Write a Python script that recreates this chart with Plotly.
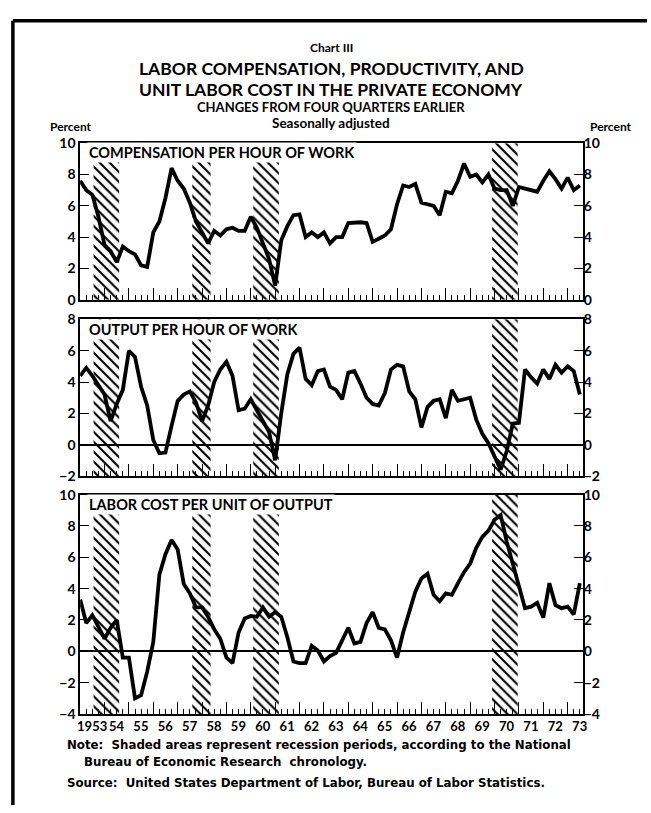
import plotly.graph_objects as go

# ---------------- data (quarterly, 1953 Q1 .. 1973 Q3) ----------------
quarters = [1953 + 0.25 * k for k in range(83)]

compensation = [
    7.6, 7.0, 6.7, 5.3, 3.5, 3.1, 2.4, 3.4, 3.1, 2.9,
    2.2, 2.1, 4.3, 5.0, 6.5, 8.4, 7.6, 7.1, 6.2, 5.0,
    4.3, 3.6, 4.4, 4.1, 4.5, 4.6, 4.4, 4.4, 5.3, 4.6,
    3.6, 2.6, 0.9, 3.8, 4.7, 5.4, 5.45, 4.0, 4.3, 4.0,
    4.3, 3.6, 4.0, 4.0, 4.9, 4.95, 4.95, 4.9, 3.7, 3.9,
    4.1, 4.5, 6.1, 7.3, 7.2, 7.4, 6.2, 6.1, 6.0, 5.4,
    6.9, 6.8, 7.6, 8.7, 7.85, 8.0, 7.5, 8.0, 7.1, 7.0,
    7.0, 6.0, 7.2, 7.1, 7.0, 6.9, 7.6, 8.2, 7.7, 7.1,
    7.8, 7.0, 7.3,
]

productivity = [
    4.4, 4.9, 4.4, 3.8, 3.2, 1.5, 2.6, 3.5, 6.0, 5.6,
    3.7, 2.5, 0.3, -0.55, -0.5, 1.2, 2.8, 3.2, 3.4, 2.7,
    1.5, 2.5, 4.0, 4.8, 5.3, 4.4, 2.2, 2.3, 2.9, 2.2,
    1.5, 0.8, -1.0, 2.0, 4.5, 5.8, 6.2, 4.2, 3.8, 4.7,
    4.8, 3.7, 3.5, 2.9, 4.6, 4.7, 3.9, 3.0, 2.6, 2.5,
    3.3, 4.8, 5.1, 5.0, 3.4, 2.9, 1.1, 2.4, 2.8, 2.9,
    1.7, 3.5, 2.8, 2.9, 3.0, 1.6, 0.7, 0.1, -0.8, -1.6,
    -0.4, 1.35, 1.4, 4.8, 4.3, 3.9, 4.8, 4.2, 5.1, 4.6,
    5.0, 4.7, 3.2,
]

unit_labor_cost = [
    3.3, 1.8, 2.3, 1.6, 0.8, 1.5, 2.0, -0.4, -0.4, -3.0,
    -2.8, -1.3, 0.6, 4.9, 6.2, 7.1, 6.5, 4.3, 3.7, 2.8,
    2.8, 2.2, 1.4, 0.8, -0.4, -0.75, 1.2, 2.1, 2.25, 2.2,
    2.8, 2.2, 2.5, 2.2, 0.9, -0.65, -0.75, -0.75, 0.35, 0.05,
    -0.65, -0.3, -0.1, 0.7, 1.5, 0.5, 0.6, 1.8, 2.5, 1.5,
    1.4, 0.7, -0.4, 1.2, 2.45, 3.8, 4.65, 4.95, 3.6, 3.2,
    3.7, 3.6, 4.35, 5.05, 5.6, 6.6, 7.3, 7.7, 8.4, 8.7,
    7.0, 5.6, 4.3, 2.75, 2.85, 3.1, 2.15, 4.35, 2.95, 2.75,
    2.85, 2.35, 4.35,
]

recession_start = [1953.55, 1957.6, 1960.1, 1969.9]
recession_end = [1954.6, 1958.35, 1961.15, 1970.95]

year_ticks = list(range(1953, 1974))
year_labels = ["1953"] + [str(y)[2:] for y in range(1954, 1974)]

panel_titles = ["COMPENSATION PER HOUR OF WORK",
                "OUTPUT PER HOUR OF WORK",
                "LABOR COST PER UNIT OF OUTPUT"]
panel_series = [compensation, productivity, unit_labor_cost]
panel_ranges = [[0, 10], [-2, 8], [-4, 10]]

# ---------------- layout helpers ----------------
W, H = 651, 813
FONT = "Lato"
NOTEFONT = "DejaVu Sans"


def fy(px):
    return 1 - px / H


x_dom = [78 / W, 586 / W]
panel_px = [(137, 297), (317, 477), (496, 720)]
x_range = [1953.0, 1953.0 + 508 / 24.64]

fig = go.Figure()
layout = dict(
    width=W, height=H, margin=dict(l=0, r=0, t=0, b=0),
    paper_bgcolor="white", plot_bgcolor="white", showlegend=False,
    barmode="overlay",
)
annotations = []
shapes = []

rec_mid = [(a + b) / 2 for a, b in zip(recession_start, recession_end)]
rec_w = [b - a for a, b in zip(recession_start, recession_end)]

for i in range(3):
    n = i + 1
    ov = i + 4
    lo, hi = panel_ranges[i]
    top, bot = panel_px[i]
    xa = "x" if n == 1 else f"x{n}"
    ya = "y" if n == 1 else f"y{n}"

    fig.add_trace(go.Bar(
        x=rec_mid, width=rec_w, base=[lo] * 4, y=[hi - lo] * 4,
        xaxis=xa, yaxis=ya, hoverinfo="skip",
        marker=dict(color="rgba(0,0,0,0)", line=dict(width=0),
                    pattern=dict(shape="\\", fgcolor="black", fgopacity=1,
                                 bgcolor="rgba(0,0,0,0)", size=7,
                                 solidity=0.3, fillmode="overlay")),
    ))
    fig.add_trace(go.Scatter(
        x=quarters, y=panel_series[i], mode="lines",
        line=dict(color="black", width=3.8),
        xaxis=xa, yaxis=f"y{ov}", hoverinfo="skip",
    ))

    tickfont = dict(family=FONT, size=14, color="black", weight="bold")
    layout[f"xaxis{n}" if n > 1 else "xaxis"] = dict(
        domain=x_dom, range=x_range, anchor=ya,
        showline=True, linecolor="black", linewidth=1.5, mirror=True,
        showgrid=False, zeroline=False,
        tickmode="array", tickvals=year_ticks, ticktext=year_labels,
        showticklabels=(n == 3), ticklabelshift=12, tickangle=0,
        ticks="inside", ticklen=12, tickwidth=1.4, tickcolor="black",
        minor=dict(tickmode="linear", tick0=1953, dtick=0.25,
                   ticks="inside", ticklen=5, tickwidth=1.2,
                   tickcolor="black", showgrid=False),
        tickfont=dict(family=FONT, size=13, color="black", weight="bold"),
    )
    tv = list(range(lo, hi + 1, 2))
    layout[f"yaxis{n}" if n > 1 else "yaxis"] = dict(
        domain=[fy(bot), fy(top)], range=[lo, hi], anchor=xa,
        showline=True, linecolor="black", linewidth=1.5, mirror=True,
        showgrid=False, zeroline=(lo < 0), zerolinecolor="black",
        zerolinewidth=1.5, tickmode="array", tickvals=tv,
        ticks="inside", ticklen=9, tickwidth=1.4, tickcolor="black",
        tickfont=tickfont,
    )
    layout[f"yaxis{ov}"] = dict(
        overlaying=ya, side="right", anchor=xa, range=[lo, hi],
        showline=False, showgrid=False, zeroline=False,
        tickmode="array", tickvals=tv,
        ticks="inside", ticklen=9, tickwidth=1.4, tickcolor="black",
        tickfont=tickfont,
    )
    annotations.append(dict(
        text=panel_titles[i], xref="paper", yref="paper",
        x=85 / W, y=fy(top + 10), xanchor="left", yanchor="middle",
        showarrow=False, bgcolor="white", borderpad=1,
        font=dict(family=FONT, size=14.5, color="black", weight="bold"),
    ))

cx = 332 / W


def txt(s, x, y, size, anchor="center", family=FONT):
    annotations.append(dict(
        text=s, xref="paper", yref="paper", x=x, y=fy(y),
        xanchor=anchor, yanchor="middle", showarrow=False,
        font=dict(family=family, size=size, color="black", weight="bold"),
    ))


txt("Chart III", cx, 39, 12)
txt("LABOR COMPENSATION, PRODUCTIVITY, AND", cx, 60.5, 17.5)
txt("UNIT LABOR COST IN THE PRIVATE ECONOMY", cx, 82, 17.5)
txt("CHANGES FROM FOUR QUARTERS EARLIER", cx, 100.5, 13)
txt("Seasonally adjusted", cx, 116, 13.5)
txt("Percent", 45 / W, 120, 12, anchor="left")
txt("Percent", 638 / W, 120, 12, anchor="right")
txt("Note:  Shaded areas represent recession periods, according to the National",
    63 / W, 752, 11.8, anchor="left", family=NOTEFONT)
txt("Bureau of Economic Research  chronology.", 80 / W, 769, 11.8,
    anchor="left", family=NOTEFONT)
txt("Source:  United States Department of Labor, Bureau of Labor Statistics.",
    63 / W, 791, 11.8, anchor="left", family=NOTEFONT)

# page frame
shapes.append(dict(type="line", xref="paper", yref="paper",
                   x0=10 / W, x1=10 / W, y0=0, y1=fy(12),
                   line=dict(color="black", width=3.5)))
shapes.append(dict(type="line", xref="paper", yref="paper",
                   x0=10 / W, x1=1, y0=fy(12), y1=fy(12),
                   line=dict(color="black", width=3.5)))

layout["annotations"] = annotations
layout["shapes"] = shapes
fig.update_layout(**layout)
fig.write_html(
    "out.html",
    config={"displayModeBar": False},
    post_script="document.body.style.margin='0';"
                "document.body.style.overflow='hidden';",
)
